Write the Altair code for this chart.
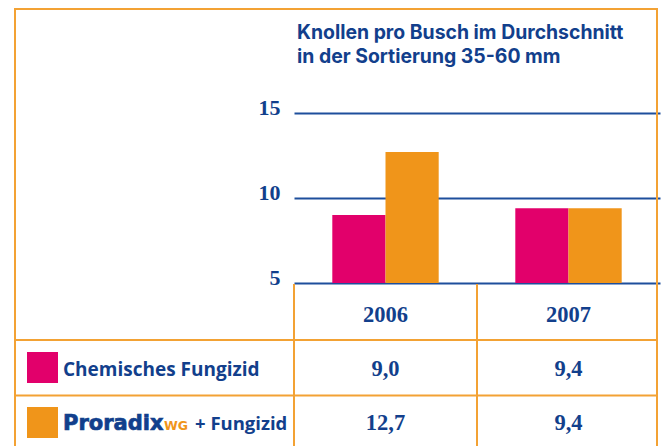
import altair as alt
import pandas as pd

# ---- data ----
years = ["2006", "2007"]
series = ["Chemisches Fungizid", "Proradix WG + Fungizid"]
chem_values = [9.0, 9.4]
proradix_values = [12.7, 9.4]
y_ticks = [5, 10, 15]
title_lines = ["Knollen pro Busch im Durchschnitt", "in der Sortierung 35-60 mm"]
proradix_parts = ["Proradix", "WG", "+ Fungizid"]

BLUE = "#123f8c"
GRID = "#1e4f9c"
PINK = "#e2006b"
ORANGE = "#f0951a"
BORDER = "#f3a234"
SANS = "Open Sans"
TITLE_FONT = "Inter"

rows = []
for s, vals in zip(series, [chem_values, proradix_values]):
    for yr, v in zip(years, vals):
        rows.append({"series": s, "year": yr, "value": v,
                     "label": f"{v:.1f}".replace(".", ",")})
df = pd.DataFrame(rows)
years_df = pd.DataFrame({"year": years})
one = pd.DataFrame({"k": [0]})

x_scale = alt.Scale(domain=years, paddingInner=0, paddingOuter=0)
x_enc = alt.X("year:N", scale=x_scale, axis=None)
color_enc = alt.Color("series:N", scale=alt.Scale(domain=series, range=[PINK, ORANGE]), legend=None)

bars = alt.Chart(df).mark_bar().encode(
    x=x_enc,
    xOffset=alt.XOffset("series:N", scale=alt.Scale(domain=series, paddingInner=0, paddingOuter=0.72)),
    y=alt.Y("value:Q",
            scale=alt.Scale(domain=[5, 15], zero=False, nice=False),
            axis=alt.Axis(values=y_ticks, grid=True, gridColor=GRID, gridWidth=2,
                          domain=False, ticks=False, tickSize=0, labelPadding=14,
                          labelFont="Liberation Serif", labelFontWeight="bold",
                          labelFontSize=22, labelColor=BLUE, labelBaseline="alphabetic",
                          labelOffset=1.5, labelFlush=False, title=None)),
    y2=alt.datum(5),
    color=color_enc,
)

# outer frame
frame = alt.Chart(one).mark_rect(filled=False, stroke=BORDER, strokeWidth=2).encode(
    x=alt.value(-279), x2=alt.value(363), y=alt.value(-104), y2=alt.value(345))

# table lines
vlines = alt.Chart(years_df).mark_rule(color=BORDER, strokeWidth=2).encode(
    x=alt.X("year:N", bandPosition=0, scale=x_scale, axis=None),
    y=alt.value(171), y2=alt.value(340))
hline1 = alt.Chart(one).mark_rule(color=BORDER, strokeWidth=2).encode(
    x=alt.value(-279), x2=alt.value(363), y=alt.value(227))
hline2 = alt.Chart(one).mark_rule(color=BORDER, strokeWidth=2).encode(
    x=alt.value(-279), x2=alt.value(363), y=alt.value(282.5))

# title (two lines)
title_layers = []
for line, yb in zip(title_lines, [-74, -50]):
    title_layers.append(alt.Chart(pd.DataFrame({"t": [line]})).mark_text(
        align="left", baseline="alphabetic", font=TITLE_FONT,
        fontWeight="bold", fontSize=19.4, color=BLUE
    ).encode(x=alt.value(3), y=alt.value(yb), text="t:N"))

# header years
header = alt.Chart(years_df).mark_text(
    font="Liberation Serif", fontWeight="bold", fontSize=22.5, color=BLUE,
    align="center", baseline="alphabetic"
).encode(x=alt.X("year:N", scale=x_scale, axis=None), y=alt.value(208.7), text="year:N")

row_baselines = [262.7, 317]
swatch_centers = [254.5, 309.5]
layers = [frame, bars, vlines, hline1, hline2] + title_layers + [header]

for s, yb, yc in zip(series, row_baselines, swatch_centers):
    sub = alt.Chart(df).transform_filter(alt.datum.series == s)
    vals = sub.mark_text(font="Liberation Serif", fontWeight="bold", fontSize=22.5,
                         color=BLUE, align="center", baseline="alphabetic").encode(
        x=x_enc, y=alt.value(yb), text="label:N")
    sw = sub.transform_filter(alt.datum.year == years[0]).mark_square(
        size=961, opacity=1, filled=True).encode(
        x=alt.value(-251.5), y=alt.value(yc), color=color_enc)
    layers += [vals, sw]

leg1 = alt.Chart(pd.DataFrame({"t": [series[0]]})).mark_text(
    align="left", baseline="alphabetic", font=SANS, fontWeight="bold",
    fontSize=19, color=BLUE).encode(x=alt.value(-231), y=alt.value(262.7), text="t:N")
leg2a = alt.Chart(pd.DataFrame({"t": [proradix_parts[0]]})).mark_text(
    align="left", baseline="alphabetic", font="DejaVu Sans", fontWeight="bold",
    fontSize=21, color=BLUE, stroke=BLUE, strokeWidth=0.7).encode(
    x=alt.value(-231), y=alt.value(317), text="t:N")
leg2b = alt.Chart(pd.DataFrame({"t": [proradix_parts[1]]})).mark_text(
    align="left", baseline="alphabetic", font="DejaVu Sans", fontWeight="bold",
    fontSize=12.5, color=ORANGE).encode(x=alt.value(-130), y=alt.value(317), text="t:N")
leg2c = alt.Chart(pd.DataFrame({"t": [proradix_parts[2]]})).mark_text(
    align="left", baseline="alphabetic", font=SANS, fontWeight="bold",
    fontSize=18.5, color=BLUE).encode(x=alt.value(-99), y=alt.value(317), text="t:N")
layers += [leg1, leg2a, leg2b, leg2c]

chart = alt.layer(*layers).properties(
    width=366, height=170, autosize="none",
    padding={"left": 294, "top": 113, "right": 1, "bottom": 163},
    background="white",
).configure_view(stroke=None)

chart.save("out.html", embed_options={"renderer": "svg", "actions": False})
